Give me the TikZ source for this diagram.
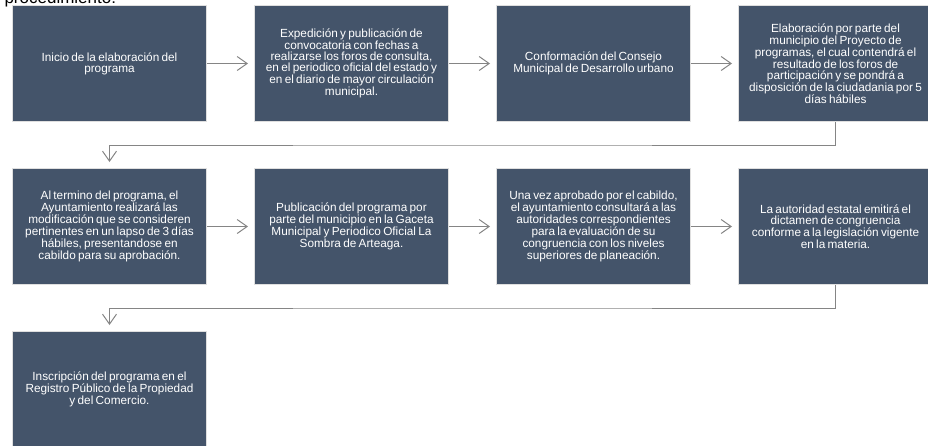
\documentclass[tikz,border=0pt]{standalone}
\usepackage{fontspec}
\setmainfont{Liberation Sans}[WordSpace=0.7]
\usepackage{tikz}
\usetikzlibrary{positioning, calc, arrows.meta}
\definecolor{boxblue}{HTML}{44546A}
\definecolor{linegray}{HTML}{858585}
\tikzstyle{arrow} = [draw=linegray, line width=1pt, -{Straight Barb[length=10pt,width=14pt]}, shorten >=6pt]

\begin{document}
\begin{tikzpicture}[
    x=1pt, y=-1pt,
    stepbox/.style={rectangle, fill=boxblue, draw=gray!25, line width=1pt,
      minimum width=194pt, minimum height=116pt, inner xsep=2pt, inner ysep=4pt,
      align=center, text=white, font=\fontsize{11.8}{10.9}\selectfont},
    node distance=46pt and 47pt,
  ]
  \useasboundingbox (0,0) rectangle (928,445);
  \node[anchor=base west, font=\fontsize{17}{19}\selectfont] (title) at (1,3) {procedimiento:};

  % first row
  \node[stepbox, anchor=north west] (b1) at (12,5) {Inicio de la elaboración del\\programa};
  \node[stepbox, right=of b1] (b2) {Expedición y publicación de\\convocatoria con fechas a\\realizarse los foros de consulta,\\en el periodico oficial del estado y\\en el diario de mayor circulación\\municipal.};
  \node[stepbox, right=of b2] (b3) {Conformación del Consejo\\Municipal de Desarrollo urbano};
  \node[stepbox, right=of b3] (b4) {Elaboración por parte del\\municipio del Proyecto de\\programas, el cual contendrá el\\resultado de los foros de\\participación y se pondrá a\\disposición de la ciudadania por 5\\días hábiles};

  % second row
  \node[stepbox, below=of b1] (b5) {Al termino del programa, el\\Ayuntamiento realizará las\\modificación que se consideren\\pertinentes en un lapso de 3 días\\hábiles, presentandose en\\cabildo para su aprobación.};
  \node[stepbox, right=of b5] (b6) {Publicación del programa por\\parte del municipio en la Gaceta\\Municipal y Periodico Oficial La\\Sombra de Arteaga.};
  \node[stepbox, right=of b6] (b7) {Una vez aprobado por el cabildo,\\el ayuntamiento consultará a las\\autoridades correspondientes\\para la evaluación de su\\congruencia con los niveles\\superiores de planeación.};
  \node[stepbox, right=of b7] (b8) {La autoridad estatal emitirá el\\dictamen de congruencia\\conforme a la legislación vigente\\en la materia.};

  % third row
  \node[stepbox, below=of b5] (b9) {Inscripción del programa en el\\Registro Público de la Propiedad\\y del Comercio.};

  \draw[arrow] (b1) -- (b2);
  \draw[arrow] (b2) -- (b3);
  \draw[arrow] (b3) -- (b4);
  \draw[arrow] (b4.south) |- ($(b4.south)!.5!(b5.north)$) -| (b5.north);
  \draw[arrow] (b5) -- (b6);
  \draw[arrow] (b6) -- (b7);
  \draw[arrow] (b7) -- (b8);
  \draw[arrow] (b8.south) |- ($(b8.south)!.5!(b9.north)$) -| (b9.north);
\end{tikzpicture}
\end{document}
